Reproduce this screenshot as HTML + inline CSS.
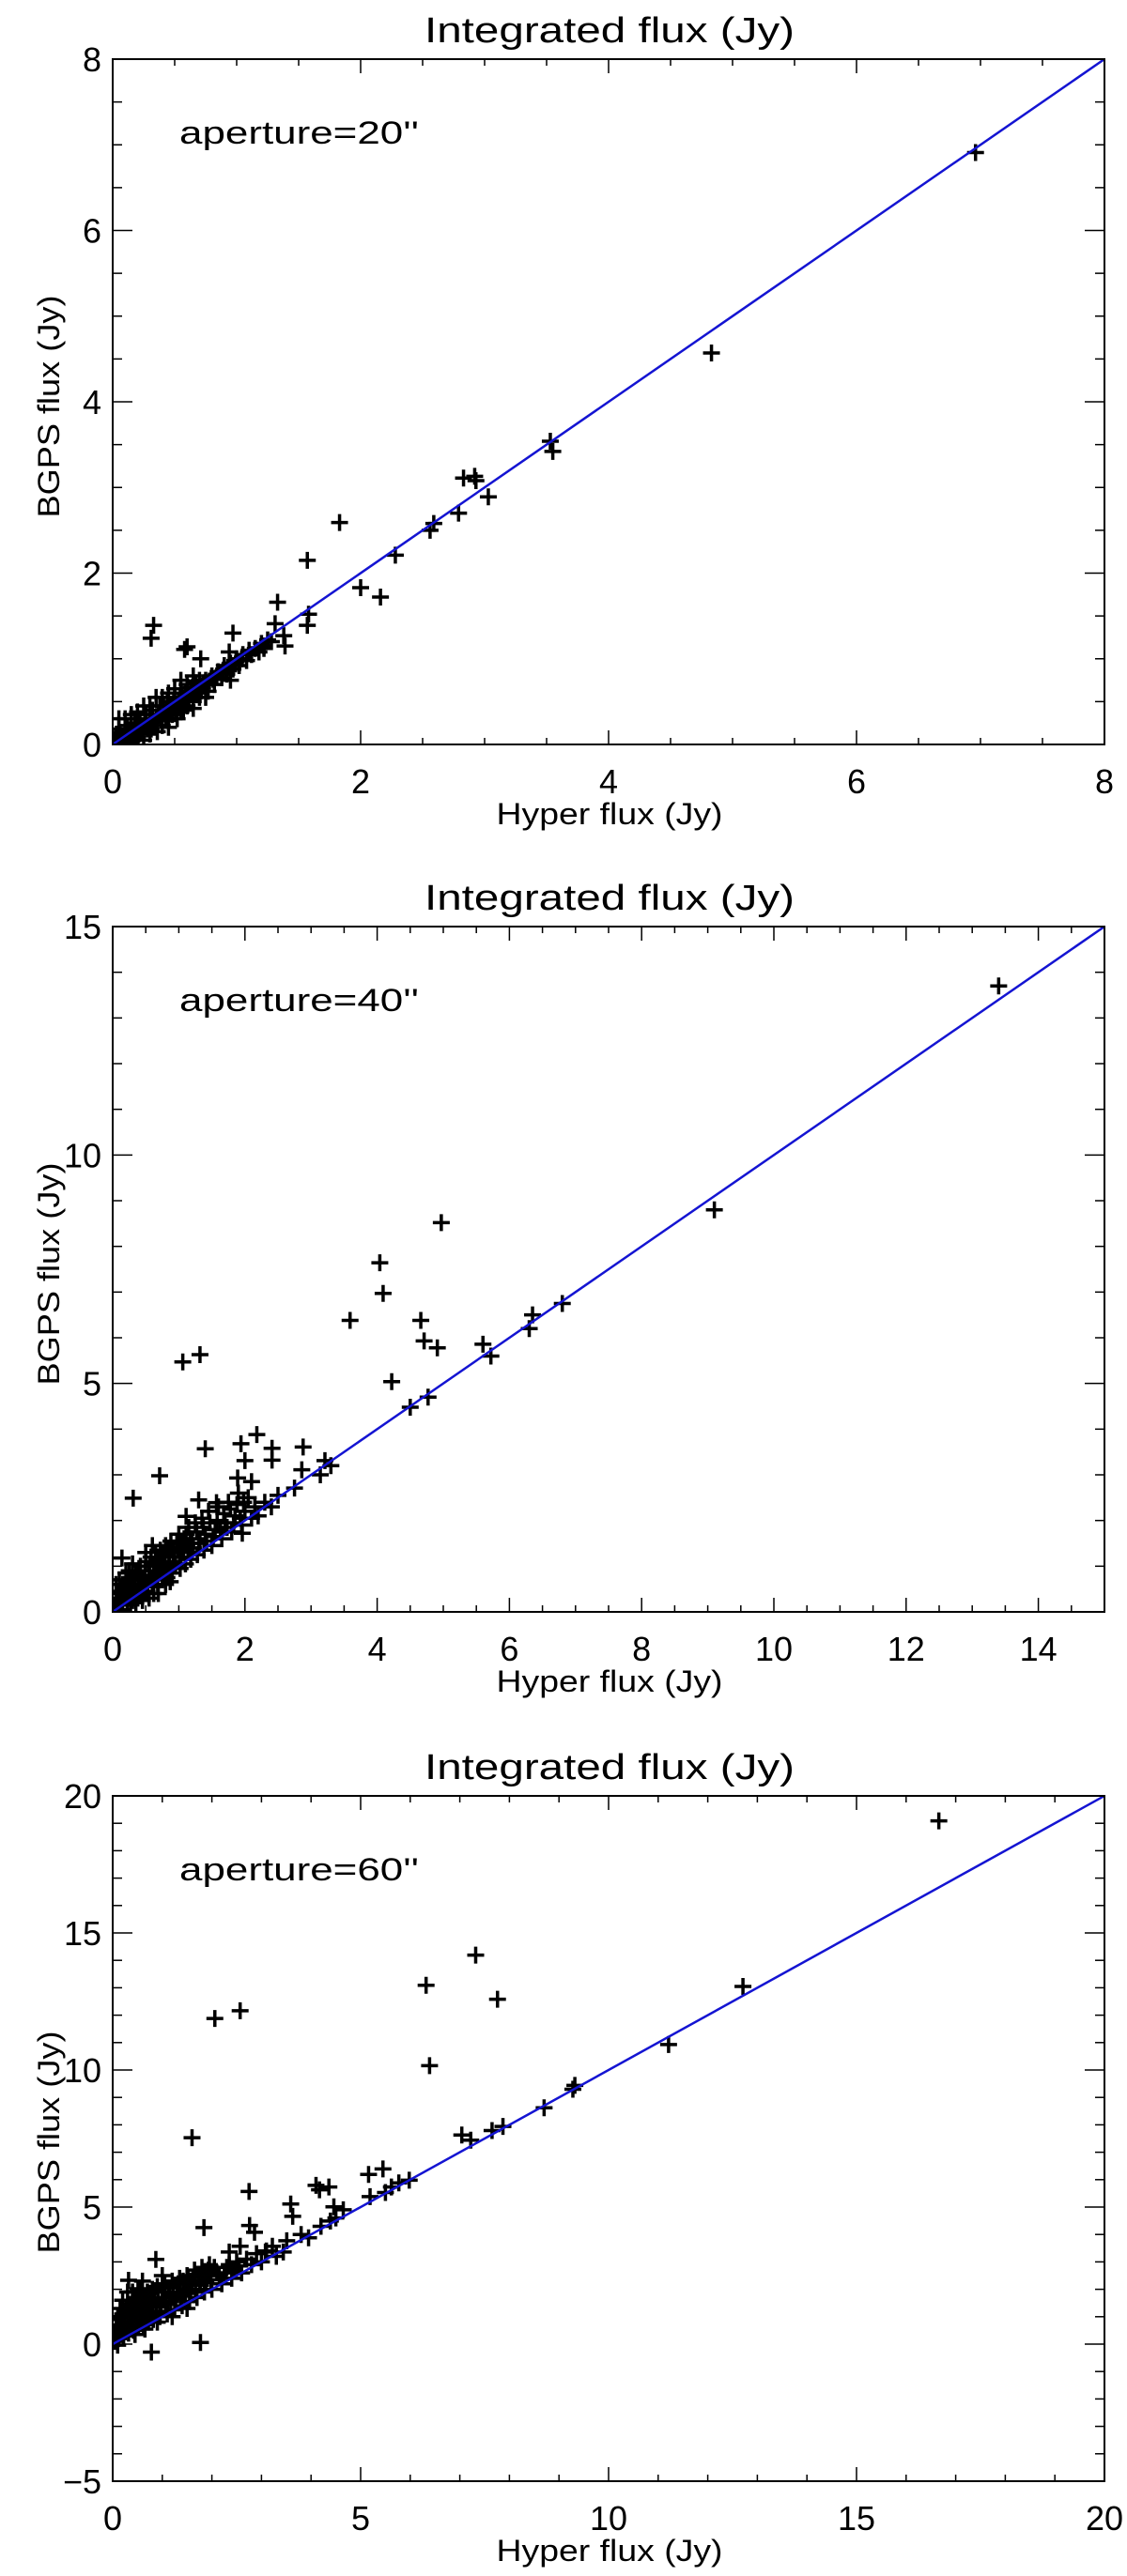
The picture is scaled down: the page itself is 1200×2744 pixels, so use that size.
<!DOCTYPE html>
<html><head><meta charset="utf-8"><style>
html,body{margin:0;padding:0;background:#fff;}
svg{display:block;}
text{font-family:"Liberation Sans",sans-serif;fill:#000;}
</style></head><body>
<svg id="fig" width="1200" height="2744" viewBox="0 0 1200 2744" xmlns="http://www.w3.org/2000/svg"></svg>
<script>
// ---------- Panel 1 data (aperture 20") ----------
const p1Outliers = [[6.96,6.91],[4.83,4.57],[3.53,3.54],[3.55,3.42],[2.83,3.11],[2.92,3.13],[2.93,3.08],[3.03,2.89],[2.79,2.70],[2.56,2.50],[2.59,2.58],[2.28,2.21],[1.83,2.59],[2.0,1.83],[2.16,1.72],[1.57,2.15],[1.58,1.52],[1.57,1.39],[1.33,1.66],[1.31,1.41],[1.38,1.27],[1.39,1.15],[0.33,1.39],[0.31,1.24],[0.6,1.14],[0.58,1.11],[0.97,1.30],[0.71,1.0],[0.94,1.08],[1.22,1.12],[0.95,0.75]];
const p1Cluster = [[0.02,0.05],[0.03,0.12],[0.05,0.0],[0.05,0.18],[0.07,0.08],[0.08,-0.02],[0.1,0.15],[0.1,0.05],[0.12,0.22],[0.13,0.1],[0.15,0.02],[0.15,0.18],[0.17,0.12],[0.18,0.25],[0.2,0.08],[0.2,0.2],[0.22,0.3],[0.23,0.15],[0.25,0.05],[0.25,0.22],[0.27,0.35],[0.28,0.18],[0.3,0.12],[0.3,0.28],[0.32,0.4],[0.33,0.22],[0.35,0.3],[0.36,0.15],[0.38,0.45],[0.4,0.32],[0.4,0.22],[0.42,0.38],[0.44,0.5],[0.45,0.28],[0.47,0.42],[0.48,0.35],[0.5,0.55],[0.5,0.45],[0.52,0.3],[0.54,0.48],[0.55,0.6],[0.57,0.4],[0.58,0.52],[0.6,0.7],[0.6,0.45],[0.62,0.58],[0.64,0.65],[0.65,0.5],[0.67,0.72],[0.68,0.6],[0.7,0.55],[0.72,0.68],[0.75,0.75],[0.77,0.62],[0.8,0.8],[0.82,0.7],[0.85,0.85],[0.88,0.78],[0.9,0.92],[0.92,0.82],[0.95,0.95],[0.97,0.88],[1.0,1.0],[1.02,0.92],[1.05,1.05],[1.08,0.98],[1.1,1.1],[1.12,1.05],[1.15,1.12],[1.18,1.08],[1.2,1.18],[1.22,1.15],[1.25,1.22],[1.28,1.2],[0.45,0.6],[0.35,0.55],[0.55,0.75],[0.25,0.45],[0.15,0.35],[0.65,0.8],[0.05,0.3],[0.1,0.3]];
const p1ClusterB = [[0.04,0.08],[0.06,0.14],[0.09,0.1],[0.11,0.02],[0.14,0.14],[0.16,0.08],[0.19,0.16],[0.21,0.12],[0.24,0.18],[0.26,0.26],[0.29,0.22],[0.31,0.18],[0.34,0.26],[0.37,0.34],[0.39,0.28],[0.41,0.44],[0.43,0.32],[0.46,0.36],[0.49,0.48],[0.51,0.4],[0.53,0.52],[0.56,0.46],[0.59,0.6],[0.61,0.52],[0.63,0.66],[0.66,0.58],[0.69,0.66],[0.71,0.62],[0.73,0.72],[0.76,0.7],[0.78,0.74],[0.81,0.76],[0.84,0.8],[0.87,0.84],[0.89,0.86],[0.93,0.9],[0.99,0.94],[1.04,1.0],[0.2,0.38],[0.3,0.45],[0.4,0.55],[0.5,0.65],[0.6,0.62],[0.7,0.75],[0.45,0.2],[0.55,0.38],[0.65,0.42],[0.75,0.55]];
const p1XTicks = ["0","2","4","6","8"];
const p1YTicks = ["0","2","4","6","8"];

// ---------- Panel 2 data (aperture 40") ----------
const p2Outliers = [[13.4,13.7],[9.1,8.8],[6.8,6.75],[6.35,6.5],[6.3,6.2],[5.72,5.6],[5.6,5.86],[4.77,4.7],[4.5,4.48],[4.97,8.52],[4.04,7.64],[4.09,6.97],[4.66,6.38],[4.71,5.93],[4.91,5.78],[4.22,5.04],[3.59,6.38],[1.32,5.63],[1.06,5.47],[2.18,3.88],[1.94,3.68],[1.40,3.57],[2.41,3.58],[2.88,3.61],[2.0,3.31],[2.41,3.32],[0.71,2.98],[0.31,2.49],[0.14,1.18],[0.87,0.66],[0.69,0.40],[2.86,3.11],[3.14,3.0],[3.21,3.31],[1.89,2.93],[2.1,2.85],[1.96,1.72],[1.57,2.39],[1.3,2.45],[1.11,2.09],[2.75,2.71],[2.5,2.55],[3.3,3.2],[0.55,0.3]];
const p2Cluster = [[0.03,0.1],[0.05,0.3],[0.08,-0.05],[0.1,0.2],[0.12,0.45],[0.15,0.05],[0.18,0.3],[0.2,0.6],[0.22,0.15],[0.25,0.4],[0.28,0.75],[0.3,0.25],[0.32,0.5],[0.35,0.85],[0.38,0.3],[0.4,0.6],[0.42,1.0],[0.45,0.4],[0.48,0.7],[0.5,1.1],[0.52,0.45],[0.55,0.8],[0.58,1.2],[0.6,0.55],[0.62,0.9],[0.65,1.3],[0.68,0.6],[0.7,1.0],[0.72,1.35],[0.75,0.7],[0.78,1.1],[0.8,1.45],[0.82,0.75],[0.85,1.2],[0.88,1.55],[0.9,0.85],[0.92,1.3],[0.95,1.0],[0.98,1.4],[1.0,1.7],[1.02,0.95],[1.05,1.3],[1.08,1.6],[1.1,1.05],[1.12,1.45],[1.15,1.85],[1.18,1.15],[1.2,1.5],[1.25,1.95],[1.28,1.25],[1.3,1.6],[1.35,2.05],[1.38,1.35],[1.4,1.7],[1.45,2.2],[1.5,1.45],[1.55,1.8],[1.6,2.3],[1.65,1.6],[1.7,1.95],[1.75,2.4],[1.8,1.75],[1.85,2.1],[1.9,2.6],[1.95,1.9],[2.0,2.2],[2.05,2.5],[2.1,2.05],[2.15,2.3],[2.2,2.1],[2.3,2.4],[2.4,2.3],[0.15,0.6],[0.25,0.9],[0.05,0.6]];
const p2ClusterB = [[0.06,0.15],[0.09,0.4],[0.13,0.25],[0.17,0.5],[0.21,0.35],[0.24,0.65],[0.27,0.2],[0.29,0.55],[0.33,0.7],[0.36,0.45],[0.39,0.8],[0.41,0.35],[0.44,0.75],[0.47,0.55],[0.49,0.9],[0.53,0.65],[0.56,1.0],[0.59,0.7],[0.63,1.05],[0.66,0.8],[0.69,1.15],[0.73,0.9],[0.76,1.25],[0.79,0.95],[0.83,1.35],[0.86,1.05],[0.89,1.4],[0.93,1.1],[0.97,1.5],[1.01,1.2],[1.04,1.55],[1.07,1.35],[1.11,1.7],[1.14,1.3],[1.17,1.6],[1.22,1.4],[1.27,1.75],[1.32,1.5],[1.37,1.85],[1.42,1.55],[1.47,1.95],[1.52,1.65],[1.58,2.0],[1.63,1.75],[1.68,2.15],[1.73,1.85],[1.78,2.25],[1.83,1.95],[1.88,2.35],[1.93,2.05],[1.98,2.4],[0.35,0.2],[0.45,0.25],[0.62,0.4],[0.8,0.6],[0.1,0.7],[0.2,0.85],[0.3,1.05],[0.5,1.3],[0.6,1.45]];
const p2XTicks = ["0","2","4","6","8","10","12","14"];
const p2YTicks = ["0","5","10","15"];

// ---------- Panel 3 data (aperture 60") ----------
const p3Outliers = [[16.66,19.09],[12.71,13.05],[11.21,10.93],[9.32,9.44],[9.28,9.3],[8.7,8.62],[7.87,7.94],[7.65,7.79],[7.22,7.44],[7.04,7.63],[7.32,14.19],[6.32,13.09],[7.76,12.58],[6.39,10.16],[2.06,11.88],[2.57,12.16],[1.6,7.53],[2.75,5.57],[4.1,5.79],[4.17,5.63],[4.36,5.73],[5.16,6.19],[5.45,6.39],[5.19,5.38],[5.5,5.53],[5.62,5.73],[5.98,5.98],[5.77,5.88],[3.59,5.11],[3.63,4.66],[2.76,4.33],[2.86,4.08],[1.84,4.25],[0.87,3.09],[0.32,2.33],[0.51,2.02],[1.77,0.06],[0.78,-0.29],[0.1,-0.04],[4.46,5.01],[4.65,4.9],[4.39,4.49],[3.95,3.88],[3.51,3.77],[3.22,3.57],[3.44,3.36],[3.08,3.36],[2.57,3.57],[2.35,3.36],[4.2,4.3],[4.5,4.6],[3.8,4.0]];
const p3Cluster = [[0.05,0.1],[0.08,0.5],[0.1,0.9],[0.12,0.2],[0.15,0.6],[0.2,1.1],[0.22,0.3],[0.25,0.8],[0.3,1.3],[0.32,0.4],[0.35,1.0],[0.4,1.5],[0.42,0.5],[0.45,1.1],[0.5,1.7],[0.52,0.6],[0.55,1.2],[0.6,1.8],[0.62,0.7],[0.65,1.4],[0.7,1.9],[0.72,0.8],[0.75,1.5],[0.8,2.0],[0.82,0.9],[0.85,1.6],[0.9,2.1],[0.95,1.0],[1.0,1.7],[1.05,2.2],[1.1,1.1],[1.15,1.8],[1.2,2.3],[1.25,1.25],[1.3,1.9],[1.35,2.4],[1.4,1.4],[1.45,2.0],[1.5,2.5],[1.55,1.55],[1.6,2.2],[1.65,2.7],[1.7,1.7],[1.75,2.3],[1.8,2.8],[1.85,1.9],[1.9,2.5],[1.95,2.9],[2.0,2.0],[2.1,2.6],[2.2,2.2],[2.3,2.8],[2.4,2.4],[2.5,3.0],[2.6,2.6],[2.7,3.1],[2.8,2.9],[2.9,3.3],[3.0,3.0],[3.1,3.4],[3.3,3.2],[0.3,1.9],[0.6,2.3],[0.15,1.3],[1.0,2.5]];
const p3ClusterB = [[0.04,0.3],[0.07,0.7],[0.11,0.45],[0.14,1.0],[0.18,0.4],[0.21,0.75],[0.24,1.2],[0.28,0.55],[0.31,0.95],[0.34,1.4],[0.38,0.65],[0.41,1.1],[0.44,1.6],[0.48,0.8],[0.51,1.25],[0.54,1.5],[0.58,0.9],[0.61,1.35],[0.64,1.7],[0.68,1.0],[0.71,1.45],[0.74,1.85],[0.78,1.1],[0.81,1.55],[0.84,1.95],[0.88,1.2],[0.92,1.65],[0.97,1.35],[1.02,1.9],[1.07,1.45],[1.12,2.05],[1.17,1.55],[1.22,2.1],[1.27,1.65],[1.32,2.2],[1.37,1.75],[1.42,2.3],[1.47,1.85],[1.52,2.35],[1.57,1.95],[1.62,2.45],[1.67,2.0],[1.72,2.55],[1.77,2.15],[1.82,2.6],[1.88,2.25],[1.93,2.7],[1.98,2.35],[2.05,2.8],[2.15,2.5],[2.25,2.6],[2.35,2.9],[2.45,2.7],[2.55,2.85],[0.45,0.35],[0.65,0.55],[0.9,0.8],[1.2,1.0],[1.5,1.3],[0.2,1.6],[0.4,1.9],[0.55,2.0]];
const p3XTicks = ["0","5","10","15","20"];
const p3YTicks = ["-5","0","5","10","15","20"];

const NS = "http://www.w3.org/2000/svg";
const svg = document.getElementById('fig');
function mk(tag, attrs, parent){
  const e = document.createElementNS(NS, tag);
  for (const k in attrs) e.setAttribute(k, attrs[k]);
  (parent||svg).appendChild(e);
  return e;
}

function panel(cfg){
  const L=120, R=1176, T=cfg.top, B=cfg.top+730;
  const sx = v => L + (v - cfg.xmin)/(cfg.xmax - cfg.xmin)*(R-L);
  const sy = v => B - (v - cfg.ymin)/(cfg.ymax - cfg.ymin)*(B-T);
  const g = mk('g', {});
  
  

  const title = mk('text', {x:649, y:T-18, 'text-anchor':'middle', 'font-size':38, textLength:394, lengthAdjust:'spacingAndGlyphs'}, g);
  title.textContent = 'Integrated flux (Jy)';
  
  

  const cid = cfg.name + '-clip';
  const cp = mk('clipPath', {id:cid}, g);
  mk('rect', {x:L, y:T, width:R-L, height:B-T}, cp);

  const tg = mk('g', {stroke:'#000', 'stroke-width':1.5}, g);
  
  
  for (let v = cfg.xmin; v <= cfg.xmax + 1e-9; v += cfg.xminor){
    const major = Math.abs((v - cfg.xmin)/cfg.xmajor - Math.round((v - cfg.xmin)/cfg.xmajor)) < 1e-6;
    const len = major ? 15 : 7, x = sx(v);
    mk('line', {x1:x, y1:B, x2:x, y2:B-len}, tg);
    mk('line', {x1:x, y1:T, x2:x, y2:T+len}, tg);
  }
  for (let v = cfg.ymin; v <= cfg.ymax + 1e-9; v += cfg.yminor){
    const major = Math.abs((v - cfg.ymin)/cfg.ymajor - Math.round((v - cfg.ymin)/cfg.ymajor)) < 1e-6;
    const len = major ? 21 : 10, y = sy(v);
    mk('line', {x1:L, y1:y, x2:L+len, y2:y}, tg);
    mk('line', {x1:R, y1:y, x2:R-len, y2:y}, tg);
  }
  cfg.xticks.forEach(s => {
    const t = mk('text', {x:sx(parseFloat(s)), y:B+52, 'text-anchor':'middle', 'font-size':36}, g);
    t.textContent = s;
    
    
  });
  cfg.yticks.forEach(s => {
    const t = mk('text', {x:108, y:sy(parseFloat(s))+13, 'text-anchor':'end', 'font-size':36}, g);
    t.textContent = s.replace('-', '\u2212');
    
    
  });
  const xt = mk('text', {x:649, y:B+85, 'text-anchor':'middle', 'font-size':32, textLength:241, lengthAdjust:'spacingAndGlyphs'}, g);
  xt.textContent = 'Hyper flux (Jy)';
  
  
  const yt = mk('text', {x:0, y:0, 'text-anchor':'middle', 'font-size':32, textLength:237, lengthAdjust:'spacingAndGlyphs', transform:`translate(63,${cfg.ylabelY}) rotate(-90)`}, g);
  yt.textContent = 'BGPS flux (Jy)';
  
  

  const ap = mk('text', {x:191, y:T+90, 'font-size':34, textLength:255, lengthAdjust:'spacingAndGlyphs'}, g);
  ap.textContent = cfg.aperture;
  
  

  const pg = mk('g', {stroke:'#000', 'stroke-width':3.5, 'clip-path':`url(#${cid})`}, g);
  
  
  cfg.points.forEach(p => {
    const x = sx(p[0]), y = sy(p[1]);
    const pt = mk('path', {d:`M${x-9},${y}H${x+9}M${x},${y-9}V${y+9}`}, pg);
    
    
  });

  const ln = mk('line', {x1:sx(Math.max(cfg.xmin,cfg.ymin)), y1:sy(Math.max(cfg.xmin,cfg.ymin)), x2:sx(Math.min(cfg.xmax,cfg.ymax)), y2:sy(Math.min(cfg.xmax,cfg.ymax)), stroke:'#1414d2', 'stroke-width':2.5, 'clip-path':`url(#${cid})`}, g);
  
  

  const frame = mk('rect', {x:L, y:T, width:R-L, height:B-T, fill:'none', stroke:'#000', 'stroke-width':2}, g);
  
  
}

panel({name:'panel-aperture-20', top:63, xmin:0, xmax:8, ymin:0, ymax:8, xmajor:2, xminor:0.5, ymajor:2, yminor:0.5,
  xticks:p1XTicks, yticks:p1YTicks, aperture:'aperture=20\'\'', points:p1Cluster.concat(p1ClusterB, p1Outliers), ylabelY:433});
panel({name:'panel-aperture-40', top:987, xmin:0, xmax:15, ymin:0, ymax:15, xmajor:2, xminor:0.5, ymajor:5, yminor:1,
  xticks:p2XTicks, yticks:p2YTicks, aperture:'aperture=40\'\'', points:p2Cluster.concat(p2ClusterB, p2Outliers), ylabelY:1357});
panel({name:'panel-aperture-60', top:1913, xmin:0, xmax:20, ymin:-5, ymax:20, xmajor:5, xminor:1, ymajor:5, yminor:1,
  xticks:p3XTicks, yticks:p3YTicks, aperture:'aperture=60\'\'', points:p3Cluster.concat(p3ClusterB, p3Outliers), ylabelY:2282});
</script>
</body></html>
